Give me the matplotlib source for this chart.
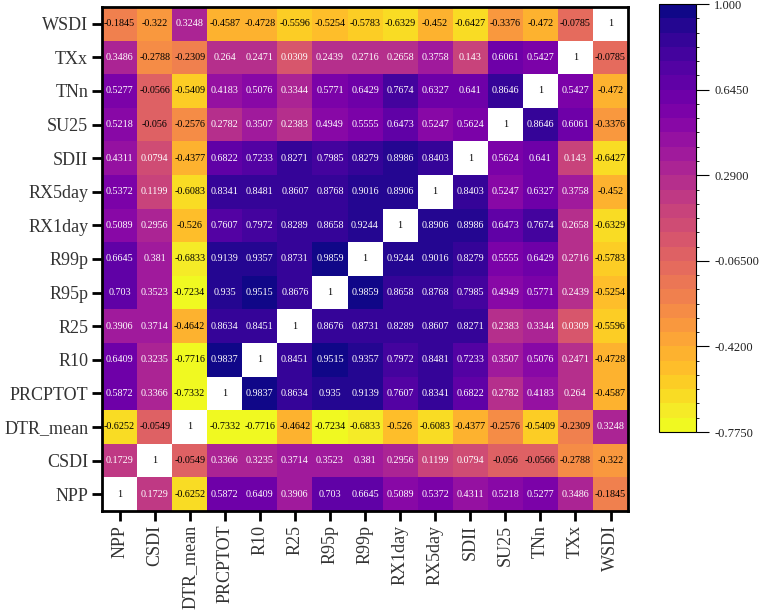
#!/usr/bin/env python3
"""Correlation heatmap of NPP against climate extreme indices."""

import matplotlib

matplotlib.use("Agg")
import matplotlib.pyplot as plt
import numpy as np
from matplotlib.colors import BoundaryNorm

LABELS = ["NPP", "CSDI", "DTR_mean", "PRCPTOT", "R10", "R25", "R95p", "R99p",
          "RX1day", "RX5day", "SDII", "SU25", "TNn", "TXx", "WSDI"]

NPP = [1, 0.1729, -0.6252, 0.5872, 0.6409, 0.3906, 0.703, 0.6645, 0.5089, 0.5372, 0.4311, 0.5218, 0.5277, 0.3486, -0.1845]
CSDI = [0.1729, 1, -0.0549, 0.3366, 0.3235, 0.3714, 0.3523, 0.381, 0.2956, 0.1199, 0.0794, -0.056, -0.0566, -0.2788, -0.322]
DTR_MEAN = [-0.6252, -0.0549, 1, -0.7332, -0.7716, -0.4642, -0.7234, -0.6833, -0.526, -0.6083, -0.4377, -0.2576, -0.5409, -0.2309, 0.3248]
PRCPTOT = [0.5872, 0.3366, -0.7332, 1, 0.9837, 0.8634, 0.935, 0.9139, 0.7607, 0.8341, 0.6822, 0.2782, 0.4183, 0.264, -0.4587]
R10 = [0.6409, 0.3235, -0.7716, 0.9837, 1, 0.8451, 0.9515, 0.9357, 0.7972, 0.8481, 0.7233, 0.3507, 0.5076, 0.2471, -0.4728]
R25 = [0.3906, 0.3714, -0.4642, 0.8634, 0.8451, 1, 0.8676, 0.8731, 0.8289, 0.8607, 0.8271, 0.2383, 0.3344, 0.0309, -0.5596]
R95P = [0.703, 0.3523, -0.7234, 0.935, 0.9515, 0.8676, 1, 0.9859, 0.8658, 0.8768, 0.7985, 0.4949, 0.5771, 0.2439, -0.5254]
R99P = [0.6645, 0.381, -0.6833, 0.9139, 0.9357, 0.8731, 0.9859, 1, 0.9244, 0.9016, 0.8279, 0.5555, 0.6429, 0.2716, -0.5783]
RX1DAY = [0.5089, 0.2956, -0.526, 0.7607, 0.7972, 0.8289, 0.8658, 0.9244, 1, 0.8906, 0.8986, 0.6473, 0.7674, 0.2658, -0.6329]
RX5DAY = [0.5372, 0.1199, -0.6083, 0.8341, 0.8481, 0.8607, 0.8768, 0.9016, 0.8906, 1, 0.8403, 0.5247, 0.6327, 0.3758, -0.452]
SDII = [0.4311, 0.0794, -0.4377, 0.6822, 0.7233, 0.8271, 0.7985, 0.8279, 0.8986, 0.8403, 1, 0.5624, 0.641, 0.143, -0.6427]
SU25 = [0.5218, -0.056, -0.2576, 0.2782, 0.3507, 0.2383, 0.4949, 0.5555, 0.6473, 0.5247, 0.5624, 1, 0.8646, 0.6061, -0.3376]
TNN = [0.5277, -0.0566, -0.5409, 0.4183, 0.5076, 0.3344, 0.5771, 0.6429, 0.7674, 0.6327, 0.641, 0.8646, 1, 0.5427, -0.472]
TXX = [0.3486, -0.2788, -0.2309, 0.264, 0.2471, 0.0309, 0.2439, 0.2716, 0.2658, 0.3758, 0.143, 0.6061, 0.5427, 1, -0.0785]
WSDI = [-0.1845, -0.322, 0.3248, -0.4587, -0.4728, -0.5596, -0.5254, -0.5783, -0.6329, -0.452, -0.6427, -0.3376, -0.472, -0.0785, 1]

CBAR_TICKS = [-0.775, -0.42, -0.065, 0.29, 0.645, 1.0]
CBAR_LABELS = ["-0.7750", "-0.4200", "-0.06500", "0.2900", "0.6450", "1.000"]

SERIF = ["Liberation Serif", "DejaVu Serif"]


def main() -> None:
    plt.rcParams["font.family"] = SERIF
    corr = np.array([NPP, CSDI, DTR_MEAN, PRCPTOT, R10, R25, R95P, R99P,
                     RX1DAY, RX5DAY, SDII, SU25, TNN, TXX, WSDI])
    n = len(LABELS)
    masked = np.ma.masked_where(np.eye(n, dtype=bool), corr)

    cmap = plt.get_cmap("plasma_r").copy()
    cmap.set_bad("white")
    levels = np.linspace(-0.775, 1.0, 31)
    norm = BoundaryNorm(levels, cmap.N)

    fig = plt.figure(figsize=(7.62, 6.14), dpi=100)
    ax = fig.add_axes([0.1339, 0.1678, 0.6903, 0.8208])
    mesh = ax.pcolormesh(np.arange(n + 1), np.arange(n + 1), masked,
                         cmap=cmap, norm=norm)
    for i in range(n):
        for j in range(n):
            value = corr[i, j]
            text = "1" if i == j else f"{value:.4f}".rstrip("0").rstrip(".")
            color = "white" if (value > 0 and i != j) else "black"
            ax.text(j + 0.5, i + 0.5, text, ha="center", va="center",
                    fontsize=7.3, color=color)

    ax.set_xlim(0, n)
    ax.set_ylim(0, n)
    ax.set_xticks(np.arange(n) + 0.5, LABELS, rotation=90, fontsize=13)
    ax.set_yticks(np.arange(n) + 0.5, LABELS, fontsize=13)
    ax.tick_params(length=7, width=2, pad=3, direction="out", colors="black",
                   labelcolor="#333333")
    for spine in ax.spines.values():
        spine.set_linewidth(2)

    cax = fig.add_axes([0.8648, 0.2964, 0.0486, 0.697])
    cbar = fig.colorbar(mesh, cax=cax, ticks=CBAR_TICKS)
    cbar.ax.set_yticklabels(CBAR_LABELS)
    cbar.ax.tick_params(length=9, width=0.8, pad=4, labelsize=9,
                        labelcolor="#222222")
    cbar.outline.set_linewidth(0.8)

    fig.savefig("out.png", dpi=100)
    plt.close(fig)


if __name__ == "__main__":
    main()
